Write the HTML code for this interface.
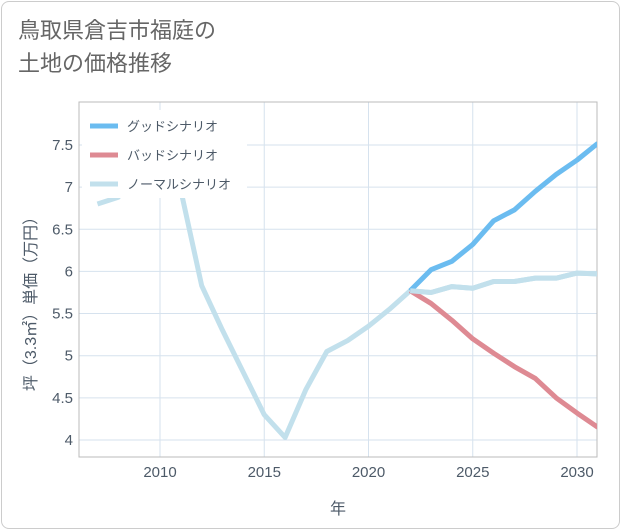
<!DOCTYPE html>
<html><head><meta charset="utf-8"><style>
body{margin:0;background:#fff;font-family:"Liberation Sans","Noto Sans CJK JP",sans-serif}
#card{position:absolute;left:1px;top:1px;width:617px;height:526px;border:1px solid #ccc;border-radius:8px;background:#fff}
#title{position:absolute;left:18px;top:14px;font-size:22px;line-height:33px;color:#666}
</style></head><body>
<div id="card"></div>
<div id="title">鳥取県倉吉市福庭の<br>土地の価格推移</div>
<svg id="chart" width="621" height="530" style="position:absolute;left:0;top:0"></svg>
<script>
const years=[2007,2008,2009,2010,2011,2012,2013,2014,2015,2016,2017,2018,2019,2020,2021,2022,2023,2024,2025,2026,2027,2028,2029,2030,2031];
const normal=[6.8,6.88,7.35,7.15,6.96,5.83,5.3,4.8,4.3,4.03,4.6,5.05,5.18,5.35,5.55,5.77,5.75,5.82,5.8,5.88,5.88,5.92,5.92,5.98,5.97];
const goodYears=[2022,2023,2024,2025,2026,2027,2028,2029,2030,2031];
const good=[5.77,6.02,6.12,6.32,6.6,6.73,6.95,7.15,7.32,7.52];
const bad=[5.77,5.62,5.42,5.2,5.03,4.87,4.73,4.5,4.32,4.15];
const xTicks=[2010,2015,2020,2025,2030];
const yTicks=[4,4.5,5,5.5,6,6.5,7,7.5];
const L=79,R=597,T=102,B=457;
const X=y=>160+(y-2010)*20.85;
const Y=v=>440-(v-4)*84.3;
const svg=document.getElementById('chart');const NS='http://www.w3.org/2000/svg';
function mk(t,a,p){const e=document.createElementNS(NS,t);for(const k in a)e.setAttribute(k,a[k]);(p||svg).appendChild(e);return e;}
const clip=mk('clipPath',{id:'c'});mk('rect',{x:L,y:T,width:R-L,height:B-T},clip);
xTicks.forEach(t=>{const g=mk('line',{x1:X(t),x2:X(t),y1:T,y2:B,stroke:'#d6e2ee','stroke-width':1});

const tx=mk('text',{x:X(t),y:477,'text-anchor':'middle','font-size':15,fill:'#4d5a68'});tx.textContent=t;
});
yTicks.forEach(t=>{const g=mk('line',{x1:L,x2:R,y1:Y(t),y2:Y(t),stroke:'#d6e2ee','stroke-width':1});

const tx=mk('text',{x:73,y:Y(t)+5,'text-anchor':'end','font-size':15,fill:'#4d5a68'});tx.textContent=t;
});
const fr=mk('rect',{x:L,y:T,width:R-L,height:B-T,fill:'none',stroke:'#bbb','stroke-width':1});

function line(xs,vs,c,n){const p=mk('polyline',{points:xs.map((y,i)=>X(y)+','+Y(vs[i])).join(' '),fill:'none',stroke:c,'stroke-width':5,'stroke-linejoin':'round','clip-path':'url(#c)'});
}
line(years,normal,'#c2e0ec','normal-scenario-line');
line(goodYears,bad,'#de8a93','bad-scenario-line');
line(goodYears,good,'#6bbcf0','good-scenario-line');
line(years.slice(15),normal.slice(15),'#c2e0ec','normal-scenario-line-future');
const lb=mk('rect',{x:82,y:110,width:165,height:88,fill:'#fff'});

const leg=[['グッドシナリオ','#6bbcf0'],['バッドシナリオ','#de8a93'],['ノーマルシナリオ','#c2e0ec']];
leg.forEach((l,i)=>{const y=126+i*29;const g=mk('g',{});

mk('line',{x1:90,x2:118,y1:y,y2:y,stroke:l[1],'stroke-width':5},g);
const t=mk('text',{x:127,y:y+5,'font-size':13,fill:'#4d5a68'},g);t.textContent=l[0];});
const xt=mk('text',{x:338,y:514,'text-anchor':'middle','font-size':16,fill:'#4d5a68'});xt.textContent='年';

const yt=mk('text',{x:0,y:0,'text-anchor':'middle','font-size':16,fill:'#4d5a68',transform:'translate(36,300) rotate(-90)'});yt.textContent='坪（3.3㎡）単価（万円）';

</script>
</body></html>
